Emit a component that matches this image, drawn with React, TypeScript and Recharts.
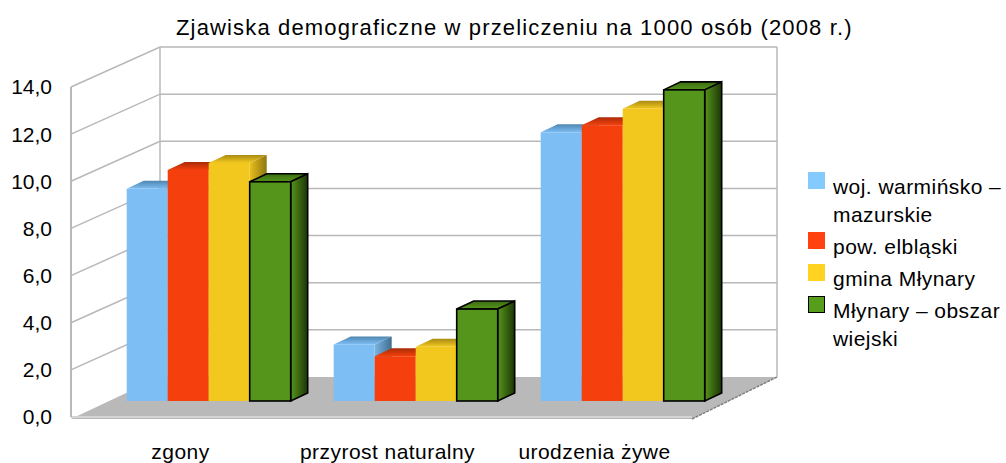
import React from 'react';
import {Bar, BarChart, CartesianGrid, Legend, XAxis, YAxis} from 'recharts';

const categories = ['zgony', 'przyrost naturalny', 'urodzenia żywe'];
const seriesNames = ['woj. warmińsko – mazurskie', 'pow. elbląski', 'gmina Młynary', 'Młynary – obszar wiejski'];
const wojValues = [9.0, 2.4, 11.4];
const powValues = [9.8, 1.9, 11.7];
const gminaValues = [10.1, 2.3, 12.4];
const obszarValues = [9.3, 3.9, 13.2];
const yTicks = [0, 2, 4, 6, 8, 10, 12, 14];

const rows = categories.map((name, i) => ({
    name,
    woj: wojValues[i],
    pow: powValues[i],
    gmina: gminaValues[i],
    obszar: obszarValues[i],
}));

const font = '"Liberation Sans", Arial, sans-serif';
const wall = {dx: 89, dy: -40, rightDx: 85};
const plane = {dx: 35, dy: -16};
const depth = {dx: 17, dy: -8};

const colors = {
    woj: {front: '#7dbef5', legend: '#83caff', topFrom: '#4f86b0', topTo: '#7dbef5', sideFrom: '#7cb4e0', sideTo: '#3f6d90'},
    pow: {front: '#f5400d', legend: '#ff420e', topFrom: '#a82c08', topTo: '#f5400d', sideFrom: '#e03c0c', sideTo: '#8a2806'},
    gmina: {front: '#f2c81e', legend: '#ffd320', topFrom: '#a88a14', topTo: '#f2c81e', sideFrom: '#e8bf1c', sideTo: '#8f7610'},
    obszar: {front: '#55951b', legend: '#579d1c', topFrom: '#3c6d12', topTo: '#55951b', sideFrom: '#55951b', sideTo: '#1c3506'},
};
type SeriesKey = keyof typeof colors;
const seriesKeys: SeriesKey[] = ['woj', 'pow', 'gmina', 'obszar'];

const gridLine = (props: any) => {
    const {x1, x2, y1, index} = props;
    const gray = '#b8b8b8';
    const backL = x1 + wall.dx;
    const backR = x2 + wall.rightDx;
    const backY = y1 + wall.dy;
    if (index === 0 || y1 > 400) {
        // floor with its darker right edge
        return (
            <g key="floor">
                <polygon points={`${x1},${y1 + 2} ${x2},${y1 + 2} ${backR},${backY} ${backL},${backY}`} fill="#b9b9b9"/>
                <line x1={x2} y1={y1 + 2} x2={backR} y2={backY} stroke="#808080" strokeWidth={1.5} strokeDasharray="3 1"/>
            </g>
        );
    }
    return (
        <g key={`wall-${y1}`}>
            <polyline points={`${x1},${y1} ${backL},${backY} ${backR},${backY}`} fill="none" stroke={gray} strokeWidth={1.5}/>
        </g>
    );
};

const wallVertical = (props: any) => {
    const {x1, y1, y2, index} = props;
    if (index !== 0) return <g key={`v-${index}`}/>;
    return (
        <g key="walls">
            <line x1={x1 + wall.dx} x2={x1 + wall.dx} y1={y1 + wall.dy} y2={y2 + wall.dy} stroke="#b8b8b8" strokeWidth={1.5}/>
            <line x1={692 + wall.rightDx} x2={692 + wall.rightDx} y1={y1 + wall.dy} y2={y2 + wall.dy} stroke="#b8b8b8" strokeWidth={1.5}/>
        </g>
    );
};

const bar3d = (key: SeriesKey) => (props: any) => {
    const {x, y, width, height} = props;
    const left = x + plane.dx;
    const right = left + width;
    const top = y + plane.dy;
    const bottom = top + height;
    const outlined = key === 'obszar';
    const stroke = outlined ? '#000' : 'none';
    const sw = outlined ? 1.6 : 0;
    return (
        <g>
            <polygon
                points={`${left},${top} ${right},${top} ${right + depth.dx},${top + depth.dy} ${left + depth.dx},${top + depth.dy}`}
                fill={`url(#top-${key})`} stroke={stroke} strokeWidth={sw}/>
            <polygon
                points={`${right},${top} ${right + depth.dx},${top + depth.dy} ${right + depth.dx},${bottom + depth.dy} ${right},${bottom}`}
                fill={`url(#side-${key})`} stroke={stroke} strokeWidth={sw}/>
            <rect x={left} y={top} width={width} height={height} fill={colors[key].front} stroke={stroke} strokeWidth={sw}/>
        </g>
    );
};

const LegendBox = () => (
    <div style={{fontFamily: font, fontSize: 21, letterSpacing: 0.45, color: '#000', width: 198}}>
        {seriesKeys.map((key, i) => (
            <div key={key} style={{display: 'flex', alignItems: 'flex-start', marginBottom: 3}}>
                <div style={{
                    width: 17, height: 17, flex: 'none', boxSizing: 'border-box', background: colors[key].legend,
                    border: key === 'obszar' ? '1px solid #000' : 'none',
                }}/>
                <div style={{marginLeft: 8, marginTop: 1, lineHeight: '28px', width: 173}}>{seriesNames[i]}</div>
            </div>
        ))}
    </div>
);

export default function App() {
    return (
        <div style={{position: 'absolute', left: 0, top: 0, width: 1006, height: 463, background: '#fff', overflow: 'hidden'}}>
            <div style={{
                position: 'absolute', left: 176, top: 14, whiteSpace: 'nowrap',
                fontFamily: font, fontSize: 22, letterSpacing: 1.15, lineHeight: '28px', color: '#000',
            }}>
                Zjawiska demograficzne w przeliczeniu na 1000 osób (2008 r.)
            </div>
            <BarChart
                width={1006}
                height={463}
                data={rows}
                barCategoryGap="10%"
                barGap={0}
                margin={{top: 87, right: 314, bottom: 0, left: 0}}
            >
                <defs>
                    {seriesKeys.map(key => (
                        <React.Fragment key={key}>
                            <linearGradient id={`top-${key}`} x1="0" y1="0" x2="0" y2="1">
                                <stop offset="0%" stopColor={colors[key].topFrom}/>
                                <stop offset="100%" stopColor={colors[key].topTo}/>
                            </linearGradient>
                            <linearGradient id={`side-${key}`} x1="0" y1="0" x2="1" y2="0">
                                <stop offset="0%" stopColor={colors[key].sideFrom}/>
                                <stop offset="100%" stopColor={colors[key].sideTo}/>
                            </linearGradient>
                        </React.Fragment>
                    ))}
                </defs>
                <CartesianGrid horizontal={gridLine} vertical={wallVertical} verticalPoints={[71]} syncWithTicks={false}/>
                <XAxis
                    dataKey="name"
                    height={46}
                    interval={0}
                    tickLine={false}
                    axisLine={{stroke: '#d4d4d4', strokeWidth: 2}}
                    tickMargin={21}
                    tick={{fontFamily: font, fontSize: 21, letterSpacing: 0.45, fill: '#000', dx: 6}}
                />
                <YAxis
                    width={71}
                    domain={[0, 14]}
                    ticks={yTicks}
                    interval={0}
                    tickSize={0}
                    tickMargin={19}
                    axisLine={{stroke: '#b8b8b8', strokeWidth: 2}}
                    tickLine={false}
                    tickFormatter={(v: number) => v.toFixed(1).replace('.', ',')}
                    tick={{fontFamily: font, fontSize: 21, fill: '#000'}}
                />
                <Legend
                    layout="vertical"
                    align="center"
                    verticalAlign="middle"
                    content={<LegendBox/>}
                    wrapperStyle={{left: 808, top: 172, width: 198, bottom: 'auto', right: 'auto'}}
                />
                {seriesKeys.map((key, i) => (
                    <Bar key={key} dataKey={key} name={seriesNames[i]} fill={colors[key].front} shape={bar3d(key)} isAnimationActive={false}/>
                ))}
            </BarChart>
        </div>
    );
}
